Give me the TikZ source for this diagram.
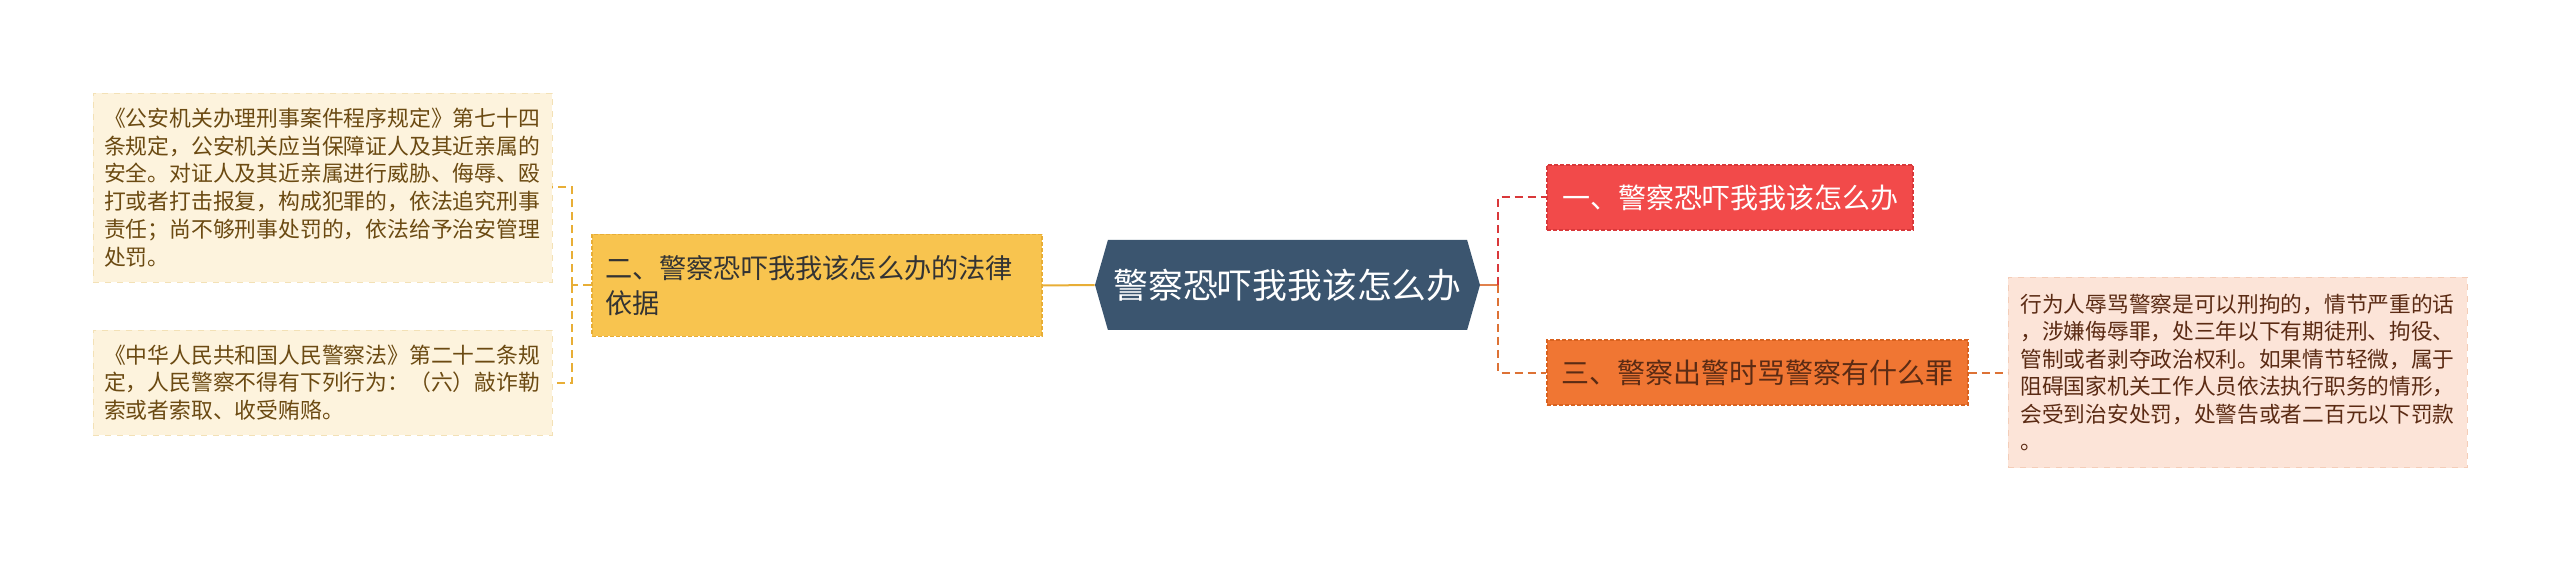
\documentclass[tikz,border=0pt]{standalone}
\usepackage{fontspec}
\setmainfont{Noto Sans CJK SC}
\usetikzlibrary{shapes.symbols}

\definecolor{rootfill}{HTML}{3B556F}
\definecolor{redfill}{HTML}{F24A4A}
\definecolor{redline}{HTML}{D9383A}
\definecolor{orangefill}{HTML}{F07633}
\definecolor{orangeline}{HTML}{D9621F}
\definecolor{yellowfill}{HTML}{F8C44F}
\definecolor{yellowline}{HTML}{E8AE36}
\definecolor{lawfill}{HTML}{FDF3DD}
\definecolor{lawline}{HTML}{F3E1B6}
\definecolor{lawtext}{HTML}{6B4A12}
\definecolor{notefill}{HTML}{FCE4D8}
\definecolor{noteline}{HTML}{F4CDB8}
\definecolor{notetext}{HTML}{5B2B14}

\tikzset{
  root/.style={signal, signal to=west and east, signal pointer angle=148,
    fill=rootfill, text=white, inner sep=0pt, minimum width=192.5pt,
    minimum height=45pt, font=\fontsize{17.4pt}{20pt}\selectfont},
  branch/.style={draw, dashed, dash pattern=on 2pt off 1pt, line width=0.6pt,
    inner sep=0pt, minimum height=32.5pt},
  lawleaf/.style={draw=lawline, dashed, fill=lawfill, text=lawtext, inner sep=0pt,
    align=left, text width=218.5pt, minimum width=229.5pt,
    font=\fontsize{10.9pt}{13.85pt}\selectfont},
  noteleaf/.style={draw=noteline, dashed, fill=notefill, text=notetext, inner sep=0pt,
    align=left, text width=217pt, minimum width=229.5pt,
    font=\fontsize{10.85pt}{13.7pt}\selectfont},
  link/.style={line width=1pt, dash pattern=on 4pt off 2.5pt}
}

\begin{document}
\begin{tikzpicture}[x=0.5pt, y=-0.5pt]
    \useasboundingbox (0,0) rectangle (2560,561);

    % center
    \node[root] (root) at (1287.5,285) {警察恐吓我我该怎么办};

    % right side
    \node[branch, draw=redline, fill=redfill, text=white, minimum width=183pt,
      font=\fontsize{14pt}{16pt}\selectfont] (b1) at (1730,197.5) {一、警察恐吓我我该怎么办};
    \node[branch, draw=orangeline, fill=orangefill, text=notetext, minimum width=210.5pt,
      font=\fontsize{14pt}{16pt}\selectfont] (b3) at (1757.5,372.5) {三、警察出警时骂警察有什么罪};
    \node[noteleaf, minimum height=95pt] (note) at (2237.5,372.5)
      {行为人辱骂警察是可以刑拘的，情节严重的话\\，涉嫌侮辱罪，处三年以下有期徒刑、拘役、\\管制或者剥夺政治权利。如果情节轻微，属于\\阻碍国家机关工作人员依法执行职务的情形，\\会受到治安处罚，处警告或者二百元以下罚款\\。};

    % left side
    \node[branch, draw=yellowline, fill=yellowfill, text=black!80, align=left,
      text width=212pt, minimum width=225pt, minimum height=51pt,
      font=\fontsize{13.6pt}{17.5pt}\selectfont] (b2) at (817,285.5)
      {二、警察恐吓我我该怎么办的法律\\依据};
    \node[lawleaf, minimum height=94.5pt] (law1) at (322.5,187.5)
      {《公安机关办理刑事案件程序规定》第七十四\\条规定，公安机关应当保障证人及其近亲属的\\安全。对证人及其近亲属进行威胁、侮辱、殴\\打或者打击报复，构成犯罪的，依法追究刑事\\责任；尚不够刑事处罚的，依法给予治安管理\\处罚。};
    \node[lawleaf, minimum height=52.5pt] (law2) at (322.5,382.5)
      {《中华人民共和国人民警察法》第二十二条规\\定，人民警察不得有下列行为：（六）敲诈勒\\索或者索取、收受贿赂。};

    \coordinate (rj) at (1498,285);
    \coordinate (lj) at (572,285.5);

    \path[line width=1pt, draw=orangeline!80] (root.east) edge (rj);
    \draw[link, redline] (rj) |- (b1.west);
    \draw[link, orangeline!90] (rj) |- (b3.west);
    \draw[link, orangeline!90] (b3.east) -- (note.west);
    \draw[line width=1pt, yellowline] (root.west) -- (b2.east);
    \draw[link, yellowline] (b2.west) -- (lj);
    \draw[link, yellowline] (lj) |- (law1.east);
    \draw[link, yellowline] (lj) |- (law2.east);
\end{tikzpicture}
\end{document}
